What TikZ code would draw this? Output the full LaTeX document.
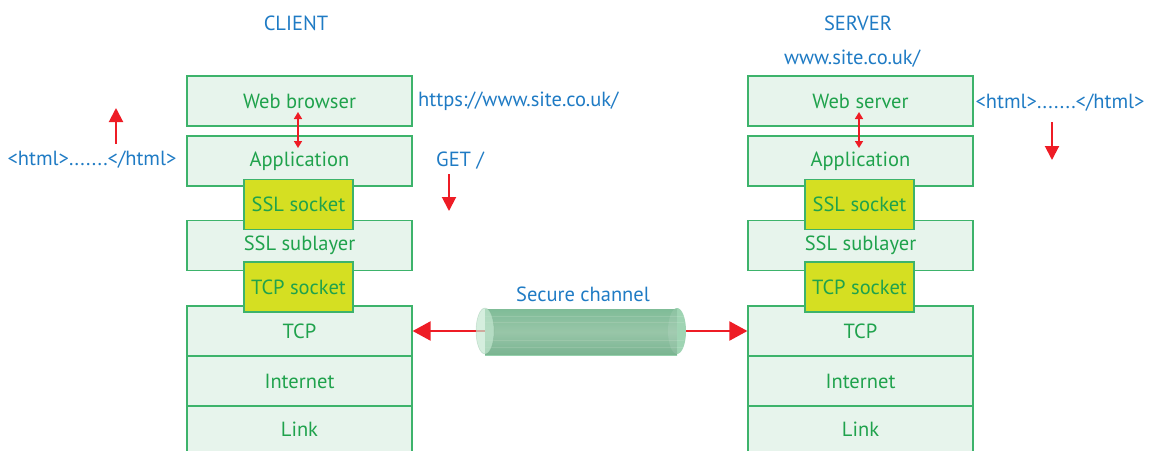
\documentclass[tikz,border=0pt]{standalone}
\usepackage{fontspec}
\setmainfont{PT Sans}
\usetikzlibrary{arrows.meta}
\definecolor{layerfill}{HTML}{E7F4EC}
\definecolor{layerline}{HTML}{3DB36B}
\definecolor{layertext}{HTML}{1FA24C}
\definecolor{sockfill}{HTML}{D5DF22}
\definecolor{bluetext}{HTML}{1F7BC4}
\definecolor{redarrow}{HTML}{EE1C25}
\definecolor{tubelight}{HTML}{A9DDBC}
\definecolor{tubemid}{HTML}{8DD2A8}
\definecolor{tubedark}{HTML}{86C9A0}
\newcommand{\labelfont}{\fontsize{20.5}{20.5}\selectfont}
\tikzset{
  layer/.style={draw=layerline, line width=1.2pt, fill=layerfill, minimum width=225pt,
    minimum height=50pt, inner sep=0pt, text=layertext, font=\labelfont},
  sock/.style={draw=layerline, line width=1.2pt, fill=sockfill, minimum width=109pt,
    minimum height=50pt, inner sep=0pt, text=layertext, font=\labelfont},
  lbl/.style={text=bluetext, font=\labelfont, inner sep=0pt},
  redar/.style={draw=redarrow, line width=2pt, -{Triangle[length=14pt,width=14pt]}},
  smallar/.style={draw=redarrow, line width=1.6pt, {Triangle[length=7pt,width=8pt]}-{Triangle[length=7pt,width=8pt]}},
  bigar/.style={draw=redarrow, line width=2.2pt, -{Triangle[length=18pt,width=19pt]}},
}
\begin{document}
\begin{tikzpicture}[x=1pt,y=-1pt]
\useasboundingbox (0,0) rectangle (1157,450);
% client stack
\node[layer] (cweb) at (299.5,101) {Web browser};
\node[layer] (capp) at (299.5,161) {Application};
\node[layer] (cssl) at (299.5,245.5) {SSL sublayer};
\node[layer] (ctcp) at (299.5,331) {TCP};
\node[layer] (cint) at (299.5,381) {Internet};
\draw[layerline, line width=1.2pt, fill=layerfill] (187,456) -- (187,406) -- (412,406) -- (412,456);
\node[text=layertext, font=\labelfont] (clink) at (299.5,429) {Link};
\node[sock] (csslsock) at (298.5,204.5) {SSL socket};
\node[sock] (ctcpsock) at (298.5,287) {TCP socket};
% server stack
\node[layer] (sweb) at (860.5,101) {Web server};
\node[layer] (sapp) at (860.5,161) {Application};
\node[layer] (sssl) at (860.5,245.5) {SSL sublayer};
\node[layer] (stcp) at (860.5,331) {TCP};
\node[layer] (sint) at (860.5,381) {Internet};
\draw[layerline, line width=1.2pt, fill=layerfill] (748,456) -- (748,406) -- (973,406) -- (973,456);
\node[text=layertext, font=\labelfont] (slink) at (860.5,429) {Link};
\node[sock] (ssslsock) at (859.5,204.5) {SSL socket};
\node[sock] (stcpsock) at (859.5,287) {TCP socket};
% request/response between browser/server and application
\coordinate (cw1) at (298,112);
\coordinate (ca1) at (298,148);
\draw[smallar] (cw1) -- (ca1);
\coordinate (sw1) at (859,112);
\coordinate (sa1) at (859,148);
\draw[smallar] (sw1) -- (sa1);
% labels
\node[lbl] (client) at (296,23) {CLIENT};
\node[lbl] (server) at (858,23) {SERVER};
\node[lbl] (host) at (852,59) {www.site.co.uk/};
\node[lbl, anchor=west] (url) at (418,101) {https://www.site.co.uk/};
\node[lbl, anchor=west] (get) at (436,161) {GET /};
\node[lbl] (chtml) at (92,160) {<html>.......</html>};
\node[lbl] (shtml) at (1060,103) {<html>.......</html>};
\coordinate (cup0) at (116,144);
\coordinate (cup1) at (116,108);
\draw[redar] (cup0) -- (cup1);
\coordinate (gdn0) at (449,174);
\coordinate (gdn1) at (449,211);
\draw[redar] (gdn0) -- (gdn1);
\coordinate (sdn0) at (1052,122);
\coordinate (sdn1) at (1052,160);
\draw[redar] (sdn0) -- (sdn1);
% secure channel tube
\node[lbl] (chan) at (583,294) {Secure channel};
\coordinate (tubeL) at (490,331);
\coordinate (tubeR) at (686,331);
\draw[bigar] (tubeL) -- (ctcp.east);
\draw[bigar] (tubeR) -- (stcp.west);
\begin{scope}
  \fill[tubedark, opacity=0.9] (677,331) ellipse[x radius=9, y radius=23];
  \fill[top color=tubemid, bottom color=tubedark, middle color=tubelight, opacity=0.88]
    (485,309) rectangle (677,355);
  \foreach \yy in {316,322,340,347}
    \draw[white, opacity=0.12, line width=0.8pt] (485,\yy) -- (684,\yy);
  \fill[white, opacity=0.12] (677,331) ellipse[x radius=9, y radius=23];
  \fill[tubelight!70!white, opacity=0.7] (485,331) ellipse[x radius=9, y radius=23];
  \draw[tubedark!80!black, opacity=0.25, line width=0.6pt] (485,331) ellipse[x radius=9, y radius=23];
\end{scope}
\end{tikzpicture}
\end{document}
